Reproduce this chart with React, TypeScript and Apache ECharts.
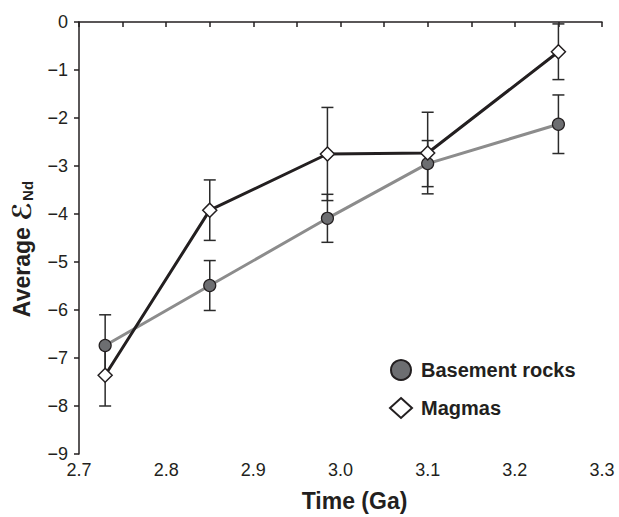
import React, { useEffect, useRef } from "react";
import * as echarts from "echarts";

const years = [2.73, 2.85, 2.985, 3.1, 3.25];
const basement = [-6.74, -5.49, -4.09, -2.95, -2.13];
const basementErr = [0.64, 0.52, 0.5, 0.48, 0.61];
const magmas = [-7.36, -3.92, -2.75, -2.73, -0.62];
const magmasErr = [0.64, 0.63, 0.97, 0.85, 0.58];
const seriesNames = ["Basement rocks", "Magmas"];

const FONT = '"Liberation Sans", Arial, sans-serif';
const INK = "#231f20";

export default function App() {
  const ref = useRef<HTMLDivElement>(null);
  useEffect(() => {
    if (!ref.current) return;
    const chart = echarts.init(ref.current, undefined, { renderer: "svg" });
    const errData: number[][] = [];
    years.forEach((x, i) => {
      errData.push([x, basement[i] - basementErr[i], basement[i] + basementErr[i]]);
      errData.push([x, magmas[i] - magmasErr[i], magmas[i] + magmasErr[i]]);
    });
    const minus = (v: number) => (v < 0 ? "\u2212" + Math.abs(v) : String(v));
    chart.setOption({
      animation: false,
      grid: { left: 79, right: 17, top: 22, bottom: 61 },
      legend: {
        orient: "vertical",
        left: 384,
        top: 354,
        itemWidth: 22,
        itemHeight: 20,
        itemGap: 16,
        data: [
          { name: seriesNames[0], icon: "circle" },
          { name: seriesNames[1], icon: "diamond" },
        ],
        textStyle: {
          fontFamily: FONT,
          fontWeight: "bold",
          fontSize: 20,
          color: INK,
          padding: [0, 0, 0, 4],
        },
      },
      xAxis: {
        type: "value",
        min: 2.7,
        max: 3.3,
        interval: 0.1,
        name: "Time (Ga)",
        nameLocation: "middle",
        nameGap: 35,
        nameTextStyle: {
          fontFamily: FONT,
          fontWeight: "bold",
          fontSize: 23,
          color: INK,
          padding: [0, 0, 0, 28],
        },
        axisLine: { show: true, lineStyle: { color: INK, width: 1.5 } },
        axisTick: { show: true, inside: false, length: 5, lineStyle: { color: INK, width: 1.5 } },
        minorTick: { show: true, splitNumber: 2, length: 5, lineStyle: { color: INK, width: 1.5 } },
        splitLine: { show: false },
        axisLabel: {
          margin: 7,
          fontFamily: FONT,
          fontSize: 18,
          color: INK,
          formatter: (v: number) => v.toFixed(1),
        },
      },
      yAxis: {
        type: "value",
        min: -9,
        max: 0,
        interval: 1,
        name: "{a|Average }{e|\u2130}{s|Nd}",
        nameLocation: "middle",
        nameGap: 44,
        nameRotate: 90,
        nameTextStyle: {
          padding: [0, 22, 0, 0],
          rich: {
            a: { fontFamily: FONT, fontWeight: "bold", fontSize: 23, color: INK },
            e: { fontFamily: '"DejaVu Sans", sans-serif', fontWeight: "bold", fontSize: 26, color: INK },
            s: { fontFamily: FONT, fontWeight: "bold", fontSize: 15, color: INK, padding: [10, 0, 0, 1] },
          },
        },
        axisLine: { show: true, lineStyle: { color: INK, width: 1.5 } },
        axisTick: { show: true, inside: false, length: 5, lineStyle: { color: INK, width: 1.5 } },
        splitLine: { show: false },
        axisLabel: {
          margin: 11,
          fontFamily: FONT,
          fontSize: 18,
          color: INK,
          formatter: minus,
        },
      },
      series: [
        {
          type: "custom",
          name: "err",
          z: 1,
          silent: true,
          data: errData,
          encode: { x: 0, y: [1, 2] },
          renderItem: (params: any, api: any) => {
            const x = api.value(0);
            const lo = api.coord([x, api.value(1)]);
            const hi = api.coord([x, api.value(2)]);
            const w = 6;
            const style = { stroke: "#2b2b2b", lineWidth: 1.5 };
            return {
              type: "group",
              children: [
                { type: "line", shape: { x1: lo[0], y1: lo[1], x2: hi[0], y2: hi[1] }, style },
                { type: "line", shape: { x1: lo[0] - w, y1: lo[1], x2: lo[0] + w, y2: lo[1] }, style },
                { type: "line", shape: { x1: hi[0] - w, y1: hi[1], x2: hi[0] + w, y2: hi[1] }, style },
              ],
            };
          },
        },
        {
          type: "line",
          name: seriesNames[0],
          z: 2,
          data: years.map((x, i) => [x, basement[i]]),
          symbol: "circle",
          symbolSize: 12,
          lineStyle: { color: "#8c8c8c", width: 3 },
          itemStyle: { color: "#6d6e71", borderColor: INK, borderWidth: 1.2 },
        },
        {
          type: "line",
          name: seriesNames[1],
          z: 3,
          data: years.map((x, i) => [x, magmas[i]]),
          symbol: "diamond",
          symbolSize: [14, 14],
          lineStyle: { color: INK, width: 3 },
          itemStyle: { color: "#ffffff", borderColor: INK, borderWidth: 1.5 },
        },
      ],
    });
    return () => chart.dispose();
  }, []);
  return (
    <div
      ref={ref}
      style={{ position: "absolute", left: 0, top: 0, width: 619, height: 517, background: "#fff" }}
    />
  );
}
